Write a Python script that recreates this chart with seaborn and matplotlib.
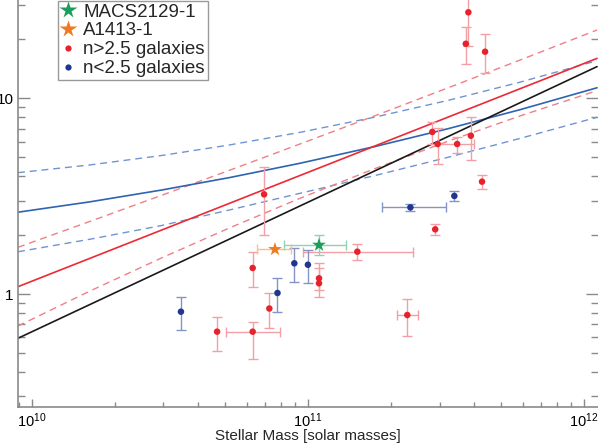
import numpy as np
import matplotlib
matplotlib.use("Agg")
import matplotlib.pyplot as plt
from matplotlib.lines import Line2D
from matplotlib.ticker import LogLocator, FixedLocator, FixedFormatter, NullFormatter
import seaborn as sns

# n>2.5 galaxies: mass, value, y range, x range
red_mass = [3.81e11, 3.73e11, 4.38e11, 2.82e11, 2.95e11, 3.47e11, 3.89e11, 4.27e11, 6.94e10,
            1.51e11, 6.31e10, 1.097e11, 1.097e11, 7.25e10, 4.69e10, 6.31e10, 2.29e11, 2.89e11]
red_val = [27.5, 19.0, 17.3, 6.73, 5.84, 5.84, 6.44, 3.75, 3.23,
           1.645, 1.358, 1.203, 1.134, 0.843, 0.642, 0.642, 0.781, 2.14]
red_lo = [18.4, 15.0, 13.5, 5.84, 4.60, 5.24, 4.82, 3.43, 2.00,
          1.49, 1.082, 1.048, 0.962, 0.673, 0.511, 0.464, 0.610, 2.00]
red_hi = [40.0, 23.1, 21.2, 7.59, 7.07, 6.37, 8.00, 4.06, 4.44,
          1.795, 1.634, 1.445, 1.358, 1.012, 0.766, 0.722, 0.946, 2.27]
red_xlo = [3.81e11, 3.73e11, 4.38e11, 2.82e11, 2.95e11, 2.95e11, 3.89e11, 4.27e11, 6.94e10,
           9.58e10, 6.31e10, 1.097e11, 1.097e11, 7.25e10, 4.69e10, 5.04e10, 2.10e11, 2.89e11]
red_xhi = [3.81e11, 3.73e11, 4.38e11, 2.82e11, 2.95e11, 3.99e11, 3.89e11, 4.27e11, 6.94e10,
           2.41e11, 6.31e10, 1.097e11, 1.097e11, 7.25e10, 4.69e10, 7.93e10, 2.51e11, 2.89e11]

# n<2.5 galaxies
blue_mass = [3.39e11, 2.35e11, 8.93e10, 1.00e11, 7.76e10, 3.47e10]
blue_val = [3.17, 2.77, 1.435, 1.411, 1.012, 0.812]
blue_lo = [2.98, 2.67, 1.148, 1.134, 0.812, 0.652]
blue_hi = [3.37, 2.88, 1.724, 1.684, 1.214, 0.969]
blue_xlo = [3.39e11, 1.86e11, 8.93e10, 1.00e11, 7.76e10, 3.47e10]
blue_xhi = [3.39e11, 3.16e11, 8.93e10, 1.00e11, 7.76e10, 3.47e10]

# lensed galaxies
star_names = ["MACS2129-1", "A1413-1"]
star_mass = [1.097e11, 7.60e10]
star_val = [1.78, 1.692]
star_lo = [1.582, 1.692]
star_hi = [1.995, 1.692]
star_xlo = [8.21e10, 6.53e10]
star_xhi = [1.377e11, 8.69e10]

line_mass = [8.92e9, 1.626e10, 2.957e10, 5.224e10, 9.363e10, 1.750e11, 3.224e11, 5.861e11, 1.114e12]
black_rel = [0.594, 0.884, 1.313, 1.914, 2.818, 4.263, 6.387, 9.489, 14.52]
red_fit = [1.090, 1.522, 2.123, 2.914, 4.032, 5.709, 8.024, 11.19, 16.0]
red_fit_hi = [1.732, 2.350, 3.196, 4.297, 5.842, 8.147, 11.32, 15.68, 22.34]
red_fit_lo = [0.686, 1.036, 1.530, 2.182, 3.083, 4.377, 6.042, 8.127, 10.94]
blue_fit = [2.618, 2.958, 3.399, 3.939, 4.656, 5.671, 6.998, 8.746, 11.32]
blue_fit_hi = [4.169, 4.566, 5.103, 5.781, 6.699, 8.017, 9.766, 12.09, 15.56]
blue_fit_lo = [1.644, 1.905, 2.239, 2.692, 3.270, 4.031, 5.00, 6.237, 8.0]

sns.set_style("ticks")
plt.rcParams["font.family"] = ["Liberation Sans", "DejaVu Sans"]

RED = "#e8222c"
NAVY = "#1f3690"
GREEN = "#1a9e5c"
ORANGE = "#f07a22"

fig = plt.figure(figsize=(5.98, 4.43), dpi=100)
ax = fig.add_axes([18 / 598, 36 / 443, 580 / 598, 407 / 443])
ax.set_xscale("log")
ax.set_yscale("log")

dash = (0, (5, 3.5))
ax.plot(line_mass, blue_fit_hi, color="#6f95d0", lw=1, ls=dash)
ax.plot(line_mass, blue_fit_lo, color="#6f95d0", lw=1, ls=dash)
ax.plot(line_mass, red_fit_hi, color="#f07f86", lw=1, ls=dash)
ax.plot(line_mass, red_fit_lo, color="#f07f86", lw=1, ls=dash)
ax.plot(line_mass, blue_fit, color="#2f64b0", lw=1.2)
ax.plot(line_mass, red_fit, color="#ec2a34", lw=1.2)
ax.plot(line_mass, black_rel, color="#1a1a1a", lw=1.2)


def draw_errors(m, v, lo, hi, xlo, xhi, col):
    m, v = np.array(m), np.array(v)
    lo, hi = np.array(lo), np.array(hi)
    xlo, xhi = np.array(xlo), np.array(xhi)
    hasy = hi > lo
    ax.errorbar(m[hasy], v[hasy], yerr=[v[hasy] - lo[hasy], hi[hasy] - v[hasy]],
                fmt="none", ecolor=col, elinewidth=1, capsize=3.5, capthick=1)
    hasx = xhi > xlo
    ax.errorbar(m[hasx], v[hasx], xerr=[m[hasx] - xlo[hasx], xhi[hasx] - m[hasx]],
                fmt="none", ecolor=col, elinewidth=1, capsize=3.5, capthick=1)


draw_errors(red_mass, red_val, red_lo, red_hi, red_xlo, red_xhi, "#f2a0a6")
draw_errors(blue_mass, blue_val, blue_lo, blue_hi, blue_xlo, blue_xhi, "#8593c6")
draw_errors(star_mass[:1], star_val[:1], star_lo[:1], star_hi[:1], star_xlo[:1], star_xhi[:1], "#8fd4b2")
draw_errors(star_mass[1:], star_val[1:], star_lo[1:], star_hi[1:], star_xlo[1:], star_xhi[1:], "#f7c08e")

sns.scatterplot(x=red_mass, y=red_val, color=RED, s=22, edgecolor="none", ax=ax, zorder=5)
sns.scatterplot(x=blue_mass, y=blue_val, color=NAVY, s=22, edgecolor="none", ax=ax, zorder=5)
sns.scatterplot(x=star_mass[:1], y=star_val[:1], color=GREEN, marker="*", s=110,
                edgecolor="none", ax=ax, zorder=6)
sns.scatterplot(x=star_mass[1:], y=star_val[1:], color=ORANGE, marker="*", s=110,
                edgecolor="none", ax=ax, zorder=6)

ax.set_xlim(10 ** 9.9504, 10 ** 12.0503)
ax.set_ylim(0.2646, 31.79)

ax.xaxis.set_major_locator(LogLocator(base=10, numticks=10))
ax.xaxis.set_minor_locator(LogLocator(base=10, subs=np.arange(2, 10), numticks=20))
ax.xaxis.set_minor_formatter(NullFormatter())
ax.yaxis.set_major_locator(FixedLocator([1, 10]))
ax.yaxis.set_major_formatter(FixedFormatter(["1", "10"]))
ax.yaxis.set_minor_locator(LogLocator(base=10, subs=np.arange(2, 10), numticks=20))
ax.yaxis.set_minor_formatter(NullFormatter())

ax.tick_params(axis="both", which="both", direction="in", color="#8a8a8a", width=1,
               labelsize=11, labelcolor="black")
ax.tick_params(axis="x", which="major", length=6, pad=3.5, labelsize=10.5)
ax.tick_params(axis="x", which="minor", length=3.6)
ax.tick_params(axis="y", which="major", length=8.4, pad=3, right=True)
ax.tick_params(axis="y", which="minor", length=5.3, right=True)

for side in ["top", "right"]:
    ax.spines[side].set_visible(False)
for side in ["left", "bottom"]:
    ax.spines[side].set_color("#8a8a8a")
    ax.spines[side].set_linewidth(1.2)

ax.set_xlabel("Stellar Mass [solar masses]", fontsize=11, labelpad=-1)

handles = [
    Line2D([], [], ls="none", marker="*", ms=13, color=GREEN, mec="none"),
    Line2D([], [], ls="none", marker="*", ms=13, color=ORANGE, mec="none"),
    Line2D([], [], ls="none", marker="o", ms=4.5, color=RED, mec="none"),
    Line2D([], [], ls="none", marker="o", ms=4.5, color=NAVY, mec="none"),
]
labels = star_names + ["n>2.5 galaxies", "n<2.5 galaxies"]
leg = ax.legend(handles, labels, loc="lower left", bbox_to_anchor=(0.069, 0.8036),
                borderaxespad=0, fontsize=13.5, frameon=True, fancybox=False,
                edgecolor="#9a9a9a", framealpha=1, handlelength=0.8, handletextpad=0.4,
                labelspacing=0.09, borderpad=0.15)
leg.get_frame().set_linewidth(1)

fig.savefig("out.png", dpi=100)
